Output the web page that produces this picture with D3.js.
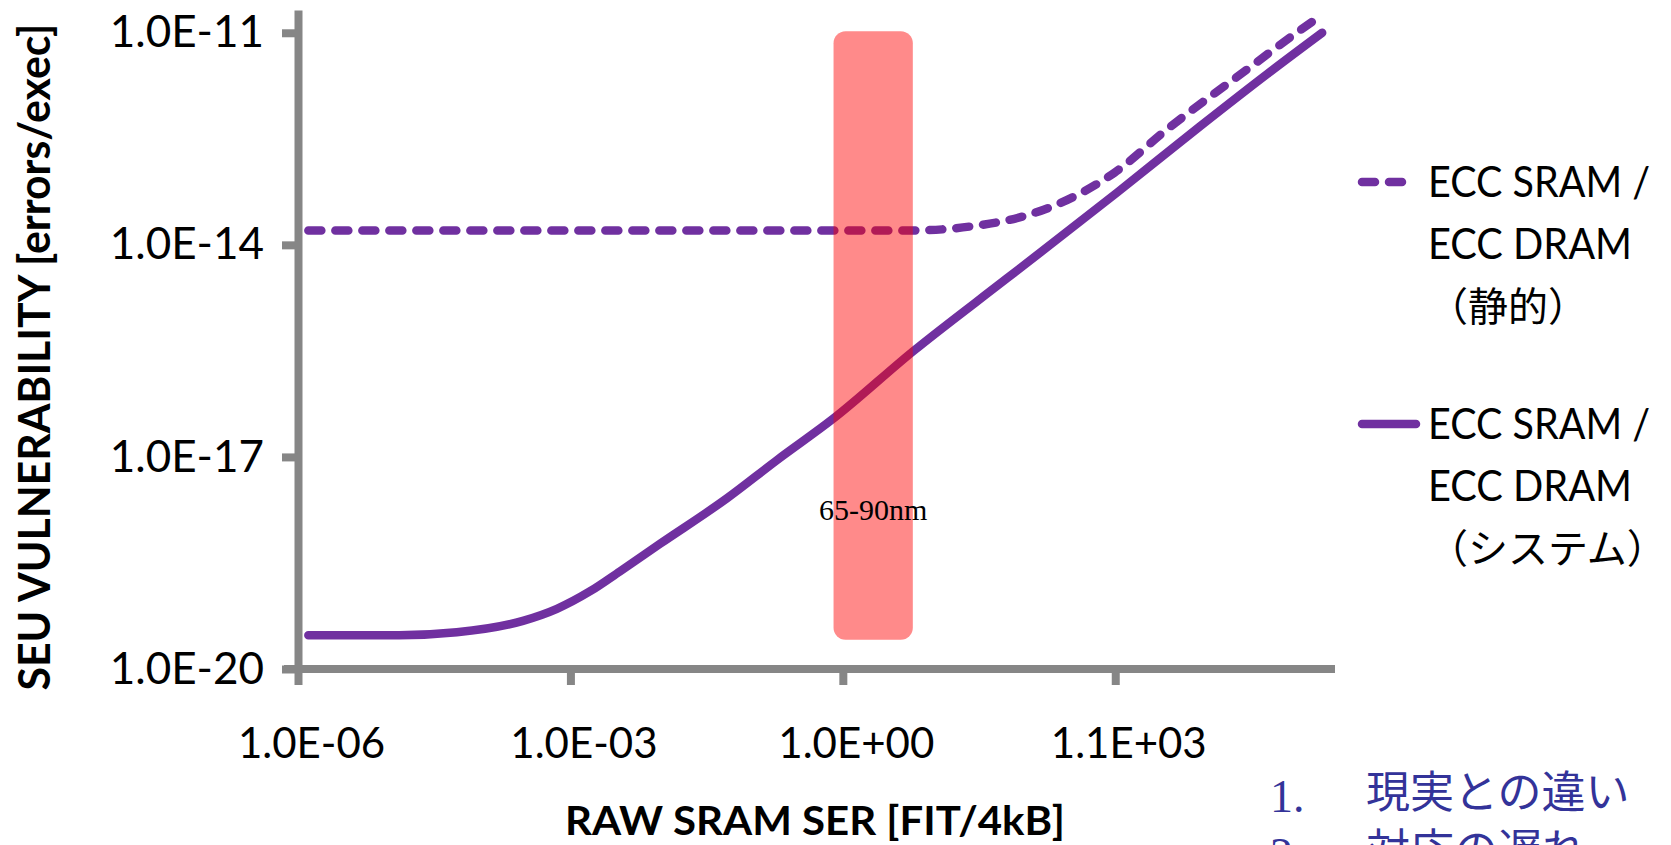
<!DOCTYPE html>
<html>
<head>
<meta charset="utf-8">
<script src="https://cdn.jsdelivr.net/npm/d3@7"></script>
<style>
  body { margin: 0; background: #fff; }
  svg { display: block; }
</style>
</head>
<body>
<div id="chart"></div>
<script>
// tick values and labels
const xTicks = [1e-6, 1e-3, 1, 1e3];
const xTickLabels = ["1.0E-06", "1.0E-03", "1.0E+00", "1.1E+03"];
const yTicks = [1e-20, 1e-17, 1e-14, 1e-11];
const yTickLabels = ["1.0E-20", "1.0E-17", "1.0E-14", "1.0E-11"];

// series
const staticX = [1.3e-6, 5.9, 16, 28, 110, 350, 980, 3800, 2.9e4, 1.1e5, 1.8e5];
const staticY = [1.6e-14, 1.6e-14, 1.7e-14, 1.85e-14, 2.65e-14, 4.8e-14, 1.05e-13, 4.4e-13, 3.1e-12, 1.1e-11, 1.7e-11];
const systemX = [1.3e-6, 1.3e-5, 5.6e-5, 3.0e-4, 7.1e-4, 1.65e-3, 3.5e-3, 9.7e-3, 5.3e-2, 0.19, 0.79, 5.9, 65, 1050, 8500, 4.7e4, 1.9e5];
const systemY = [3.0e-20, 3.0e-20, 3.3e-20, 4.8e-20, 7.1e-20, 1.26e-19, 2.4e-19, 5.9e-19, 2.6e-18, 9.1e-18, 3.5e-17, 3.1e-16, 3.4e-15, 5.5e-14, 4.7e-13, 2.6e-12, 1.0e-11];

const legendNames = [
  ["ECC SRAM /", "ECC DRAM", "（静的）"],
  ["ECC SRAM /", "ECC DRAM", "（システム）"]
];

// 65-90nm band
const bandX = [0.79, 5.9];
const bandY = [2.6e-20, 1.05e-11];
const bandLabel = "65-90nm";

const notes = [["1.", "現実との違い"], ["2.", "対応の遅れ"]];

const W = 1671, H = 845;
const purple = "#7030a0";
const axisGray = "#868686";
const latin = "Lato, 'Noto Sans CJK JP', sans-serif";

const svg = d3.select("#chart").append("svg")
  .attr("width", W)
  .attr("height", H);

svg.append("rect").attr("width", W).attr("height", H).attr("fill", "#fff");

const x = d3.scaleLog().domain([1e-6, Math.pow(10, 5.42)]).range([298, 1335]);
const y = d3.scaleLog().domain([1e-20, 2.1e-11]).range([669, 10]);

// y axis
const yAxis = svg.append("g")
  .attr("transform", `translate(${x(1e-6)},0)`)
  .call(d3.axisLeft(y).tickValues(yTicks)
    .tickFormat((d, i) => yTickLabels[i])
    .tickSize(16).tickSizeOuter(0).tickPadding(18));

// x axis
const xAxis = svg.append("g")
  .attr("transform", `translate(0,${y(1e-20)})`)
  .call(d3.axisBottom(x).tickValues(xTicks)
    .tickFormat((d, i) => xTickLabels[i])
    .tickSize(16).tickSizeOuter(0).tickPadding(43));

[yAxis, xAxis].forEach(g => {
  g.select(".domain").attr("stroke", axisGray).attr("stroke-width", 8);
  g.selectAll(".tick line").attr("stroke", axisGray).attr("stroke-width", 8);
  g.selectAll(".tick text")
    .attr("fill", "#000")
    .style("font-family", latin)
    .style("font-size", "42px");
});
yAxis.selectAll(".tick text").style("font-size", "44px");
xAxis.select(".domain").attr("d", `M${x(1e-6) - 14},0H${x.range()[1]}`);
xAxis.selectAll(".tick text").attr("dx", 13);

// axis titles
svg.append("text")
  .attr("transform", `translate(50,357) rotate(-90)`)
  .attr("text-anchor", "middle")
  .attr("textLength", 667)
  .attr("lengthAdjust", "spacingAndGlyphs")
  .style("font-family", latin)
  .style("font-weight", "bold")
  .style("font-size", "44px")
  .text("SEU VULNERABILITY [errors/exec]");

svg.append("text")
  .attr("x", 815).attr("y", 835)
  .attr("text-anchor", "middle")
  .attr("textLength", 500)
  .attr("lengthAdjust", "spacingAndGlyphs")
  .style("font-family", latin)
  .style("font-weight", "bold")
  .style("font-size", "40px")
  .text("RAW SRAM SER [FIT/4kB]");

// lines
const line = d3.line()
  .x(d => x(d[0]))
  .y(d => y(d[1]))
  .curve(d3.curveMonotoneX);

svg.append("path")
  .datum(d3.zip(systemX, systemY))
  .attr("fill", "none")
  .attr("stroke", purple)
  .attr("stroke-width", 8.5)
  .attr("stroke-linecap", "round")
  .attr("d", line);

svg.append("path")
  .datum(d3.zip(staticX, staticY))
  .attr("fill", "none")
  .attr("stroke", purple)
  .attr("stroke-width", 8.5)
  .attr("stroke-linecap", "round")
  .attr("stroke-dasharray", "13 14")
  .attr("d", line);

// band
svg.append("rect")
  .attr("x", x(bandX[0]))
  .attr("y", y(bandY[1]))
  .attr("width", x(bandX[1]) - x(bandX[0]))
  .attr("height", y(bandY[0]) - y(bandY[1]))
  .attr("rx", 12)
  .attr("fill", "#ff0000")
  .attr("fill-opacity", 0.46);

svg.append("text")
  .attr("x", x(Math.sqrt(bandX[0] * bandX[1])))
  .attr("y", y(1.3e-18))
  .attr("text-anchor", "middle")
  .style("font-family", "'Liberation Serif', 'Times New Roman', serif")
  .style("font-size", "30px")
  .text(bandLabel);

// legend
const legend = svg.append("g");
const legendTop = [182, 424];
const legendWidths = [222, 204, null];
legendNames.forEach((lines, i) => {
  const g = legend.append("g").attr("transform", `translate(0,${legendTop[i]})`);
  g.append("line")
    .attr("x1", 1362).attr("x2", 1416)
    .attr("stroke", purple)
    .attr("stroke-width", 8.5)
    .attr("stroke-linecap", "round")
    .attr("stroke-dasharray", i === 0 ? "13 14" : null);
  lines.forEach((t, j) => {
    const txt = g.append("text")
      .attr("x", 1428)
      .attr("y", 15 + j * 62)
      .style("font-family", latin)
      .style("font-size", j === 2 ? "40px" : "43px")
      .text(t);
    if (legendWidths[j]) {
      txt.attr("textLength", legendWidths[j]).attr("lengthAdjust", "spacingAndGlyphs");
    }
  });
});

// notes at the bottom right (cut off by the slide edge, as in the original)
notes.forEach((n, i) => {
  svg.append("text")
    .attr("x", 1270).attr("y", 812 + i * 58)
    .attr("fill", "#333399")
    .style("font-family", "'Liberation Serif', serif")
    .style("font-size", "46px")
    .text(n[0]);
  svg.append("text")
    .attr("x", 1366).attr("y", 808 + i * 58)
    .attr("fill", "#333399")
    .style("font-family", "'Noto Sans CJK JP', sans-serif")
    .style("font-size", "44px")
    .text(n[1]);
});
</script>
</body>
</html>
